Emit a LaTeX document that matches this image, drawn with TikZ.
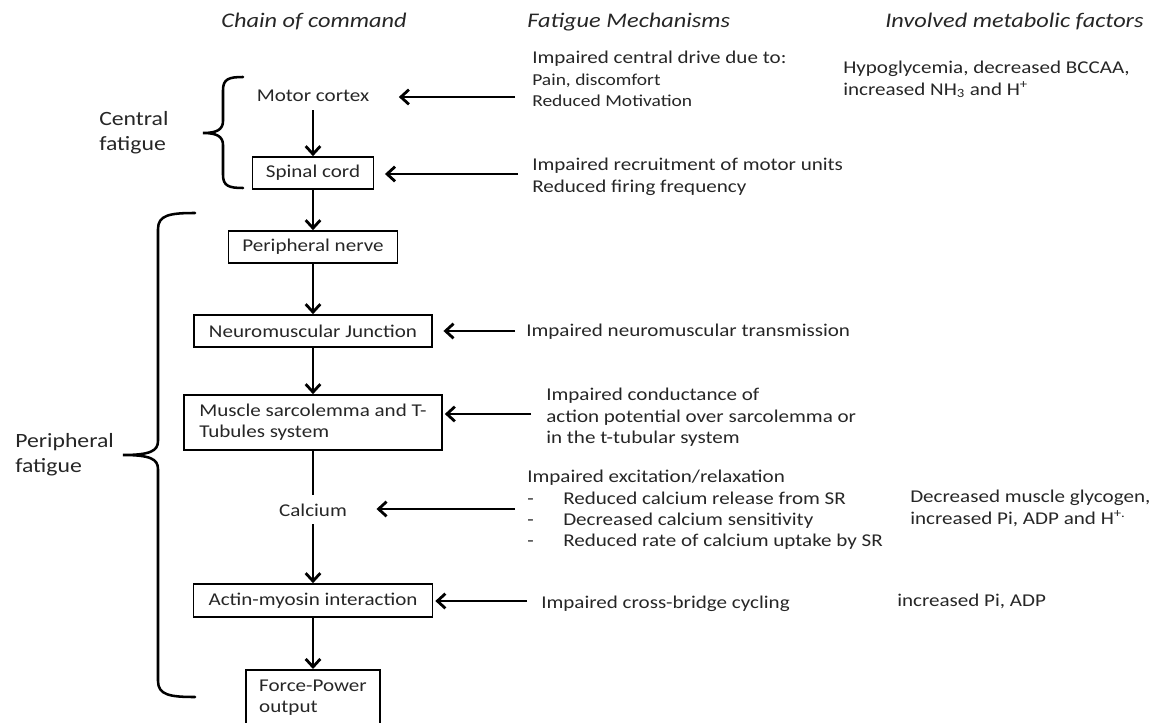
\documentclass[tikz,border=0pt]{standalone}
\usepackage{fontspec}
\setmainfont{Carlito}[FakeStretch=1.17]
\usetikzlibrary{arrows.meta}
\newlength\upx \setlength\upx{0.75pt}
\newcommand\fmain{\fontsize{13.5}{16}\selectfont}
\newcommand\fsmall{\fontsize{12.5}{16}\selectfont}
\newcommand\fbig{\fontsize{15.2}{18.6}\selectfont}
\newcommand\fhead{\fontsize{15.6}{19}\selectfont\itshape}
\definecolor{txt}{HTML}{262626}
\begin{document}
\begin{tikzpicture}[x=0.75pt,y=-0.75pt,
  box/.style={draw, line width=1.2pt, inner sep=0pt, font=\fmain, text=txt},
  plain/.style={inner sep=0pt, font=\fmain, text=txt},
  lbl/.style={inner sep=0pt, font=\fmain, text=txt, align=left, anchor=base west},
  mlbl/.style={inner sep=0pt, font=\fmain, text=txt, align=left, anchor=north west},
  arr/.style={-{Straight Barb[length=6pt,width=11pt]}, line width=2.1pt},
  ln/.style={line width=2.1pt},
  bracepath/.style={line width=1.9pt, line cap=round}]
\useasboundingbox (0,0) rectangle (1162,723);
\clip (0,0) rectangle (1162,723);

% headers
\node[plain, font=\fhead, anchor=base] (h1) at (314,28) {Chain of command};
\node[plain, font=\fhead, anchor=base west] (h2) at (527,28) {Fatigue Mechanisms};
\node[plain, font=\fhead, anchor=base west] (h3) at (885,28) {Involved metabolic factors};

% chain of command
\node[plain, anchor=base, inner xsep=22pt, inner ysep=6pt] (mc) at (313,102) {Motor cortex};
\node[box, minimum width=121\upx, minimum height=32\upx] (sc) at (313,173) {Spinal cord};
\node[box, minimum width=169\upx, minimum height=32\upx] (pn) at (313,247) {Peripheral nerve};
\node[box, minimum width=238\upx, minimum height=32\upx] (nmj) at (313,331) {Neuromuscular Junction};
\node[box, minimum width=258\upx, minimum height=55\upx, align=left] (msc) at (313,422.5) {Muscle sarcolemma and T-\\Tubules system};
\node[plain, anchor=base, inner xsep=22pt, inner ysep=6pt] (ca) at (313,516) {Calcium};
\node[box, minimum width=239\upx, minimum height=33\upx] (am) at (313,600.5) {Actin-myosin interaction};
\node[box, anchor=north, minimum width=134\upx, inner ysep=7.5pt, align=left] (fp) at (313,669) {Force-Power\\output};

\draw[arr] (mc) -- (sc);
\draw[arr] (sc) -- (pn);
\draw[arr] (pn) -- (nmj);
\draw[arr] (nmj) -- (msc);
\draw[ln] (msc) -- (ca);
\draw[arr] (ca) -- (am);
\draw[arr] (am) -- (fp);

% braces and their labels
\draw[bracepath] (243,77) .. controls (229,77) and (223,79) .. (223,90) -- (223,121)
  .. controls (223,130) and (216,133) .. (203,133)
  .. controls (216,133) and (223,136) .. (223,145) -- (223,175)
  .. controls (223,186) and (229,188) .. (243,188);
\node[mlbl, font=\fbig] (cf) at (99,111) {Central\\fatigue};

\draw[bracepath] (195,213) .. controls (170,213) and (158,215) .. (158,229) -- (158,441)
  .. controls (158,451) and (150,455) .. (123,455)
  .. controls (150,455) and (158,459) .. (158,469) -- (158,681)
  .. controls (158,695) and (170,697) .. (195,697);
\node[mlbl, font=\fbig] (pf) at (15,433) {Peripheral\\fatigue};

% fatigue mechanisms
\node[mlbl] (m1) at (532,51) {Impaired central drive due to:\\{\fsmall Pain, discomfort}\\{\fsmall Reduced Motivation}};
\node[mlbl] (m2) at (532,158) {Impaired recruitment of motor units\\Reduced firing frequency};
\node[lbl] (m3) at (526,336) {Impaired neuromuscular transmission};
\node[mlbl] (m4) at (546,388) {Impaired conductance of\\action potential over sarcolemma or\\in the t-tubular system};
\node[mlbl] (m5) at (527,470) {Impaired excitation/relaxation\\
  \makebox[36\upx][l]{-}Reduced calcium release from SR\\
  \makebox[36\upx][l]{-}Decreased calcium sensitivity\\
  \makebox[36\upx][l]{-}Reduced rate of calcium uptake by SR};
\node[lbl] (m6) at (541,608) {Impaired cross-bridge cycling};

% metabolic factors
\node[mlbl] (f1) at (843,61) {Hypoglycemia, decreased BCCAA,\\increased NH\textsubscript{3} and H\textsuperscript{+}};
\node[mlbl] (f5) at (910,490) {Decreased muscle glycogen,\\increased Pi, ADP and H\textsuperscript{+.}};
\node[lbl] (f6) at (897,606) {increased Pi, ADP};

% mechanism arrows
\coordinate (a1) at (515,97);
\coordinate (a2) at (518,174);
\coordinate (a3) at (515,331);
\coordinate (a4) at (531,414);
\coordinate (a5) at (515,509);
\coordinate (a6) at (527,601);
\draw[arr] (a1) -- (a1 -| mc.east);
\draw[arr, shorten >=8pt] (a2) -- (a2 -| sc.east);
\draw[arr, shorten >=8pt] (a3) -- (a3 -| nmj.east);
\draw[arr, shorten >=1.5pt] (a4) -- (a4 -| msc.east);
\draw[arr] (a5) -- (a5 -| ca.east);
\draw[arr, shorten >=1.5pt] (a6) -- (a6 -| am.east);
\end{tikzpicture}
\end{document}
